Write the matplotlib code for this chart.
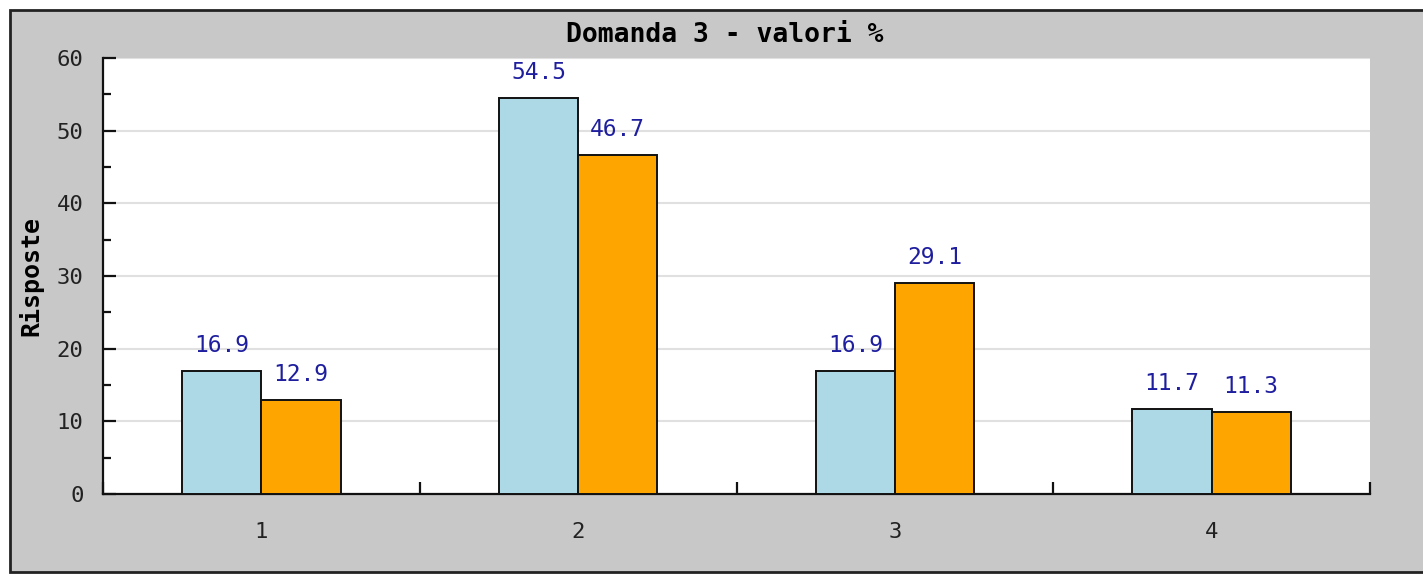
import matplotlib
matplotlib.use("Agg")
import matplotlib.pyplot as plt
import matplotlib.patches as mpatches
import numpy as np

categories = ["1", "2", "3", "4"]
series_a = [16.9, 54.5, 16.9, 11.7]
series_b = [12.9, 46.7, 29.1, 11.3]
y_ticks = [0, 10, 20, 30, 40, 50, 60]
title = "Domanda 3 - valori %"
y_label = "Risposte"

W, H = 1423, 576
fig = plt.figure(figsize=(W / 100, H / 100), dpi=100, facecolor="white")

gray = "#c8c8c8"
# outer frame
frame = mpatches.Rectangle((10 / W, 4 / H), 1.2, (572 - 10) / H, transform=fig.transFigure,
                           facecolor=gray, edgecolor="#222222", linewidth=2.0, zorder=-10)
fig.patches.append(frame)

left, right, top, bottom = 103 / W, 1370 / W, 1 - 58 / H, 1 - 494 / H
ax = fig.add_axes([left, bottom, right - left, top - bottom])
ax.set_zorder(5)
ax.set_facecolor("white")

mono = "DejaVu Sans Mono"
x = np.arange(len(categories))
bw = 0.25
bars_a = ax.bar(x - bw / 2, series_a, bw, color="#add8e6", edgecolor="#111111", linewidth=1.4, zorder=3)
bars_b = ax.bar(x + bw / 2, series_b, bw, color="#ffa500", edgecolor="#111111", linewidth=1.4, zorder=3)

for bars, vals in ((bars_a, series_a), (bars_b, series_b)):
    for b, v in zip(bars, vals):
        ax.annotate(f"{v:.1f}", (b.get_x() + b.get_width() / 2, v), xytext=(0, 10),
                    textcoords="offset points", ha="center", va="bottom",
                    fontsize=16.5, family=mono, color="#1e1e9e", zorder=4)

ax.set_xlim(-0.5, len(categories) - 0.5)
ax.set_ylim(0, 60)

for s in ("top", "right"):
    ax.spines[s].set_visible(False)
for s in ("left", "bottom"):
    ax.spines[s].set_linewidth(1.6)
    ax.spines[s].set_color("#111111")

# x: major ticks at category boundaries, labels at centers via minor ticks
ax.set_xticks(np.arange(-0.5, len(categories), 1.0))
ax.set_xticklabels([])
ax.set_xticks(x, minor=True)
ax.set_xticklabels(categories, minor=True, family=mono, fontsize=16, color="#222222")
ax.tick_params(axis="x", which="major", direction="in", length=9, width=1.6, color="#111111")
ax.tick_params(axis="x", which="minor", length=0, pad=20)

ax.set_yticks(y_ticks)
ax.set_yticklabels([str(t) for t in y_ticks], family=mono, fontsize=16, color="#222222")
ax.set_yticks(np.arange(5, 60, 10), minor=True)
ax.tick_params(axis="y", which="major", direction="in", length=9.5, width=1.6, color="#111111", pad=14)
ax.tick_params(axis="y", which="minor", direction="in", length=5.5, width=1.6, color="#111111")

ax.yaxis.grid(True, which="major", color="#e0e0e0", linewidth=1.5, zorder=0)
ax.set_axisbelow(True)

ax.set_ylabel(y_label, family=mono, fontweight="bold", fontsize=18)
ax.yaxis.set_label_coords(-0.047, 0.5)

fig.text(724.5 / W, 1 - 35 / H, title, ha="center", va="center",
         family=mono, fontweight="bold", fontsize=19)

fig.savefig("out.png", dpi=100, facecolor=fig.get_facecolor())
